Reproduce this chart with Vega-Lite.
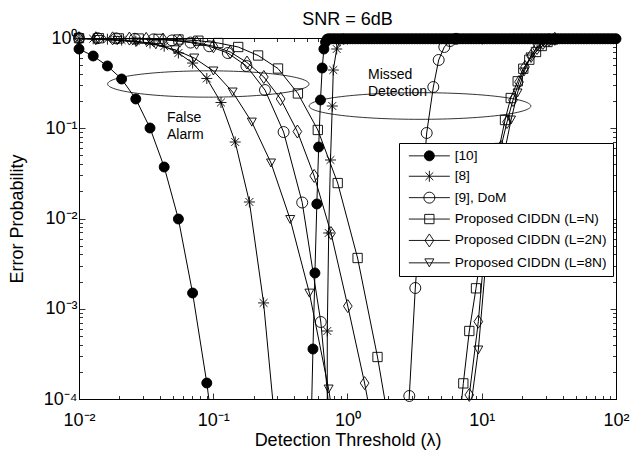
{
  "$schema": "https://vega.github.io/schema/vega-lite/v6.json",
  "width": 537,
  "height": 361,
  "autosize": "none",
  "padding": {"left": 79, "top": 38, "right": 17, "bottom": 55},
  "background": "white",
  "title": {"text": "SNR = 6dB", "fontSize": 18, "fontWeight": "normal", "font": "Liberation Sans", "color": "black", "anchor": "middle", "baseline": "bottom", "offset": 12, "dy": 30},
  "config": {
    "font": "Liberation Sans",
    "view": {"stroke": "black", "strokeWidth": 1},
    "axis": {"grid": false, "domainColor": "black", "tickColor": "black", "labelColor": "black", "titleColor": "black", "labelFont": "Liberation Sans", "titleFont": "Liberation Sans", "labelFontSize": 18, "titleFontSize": 18, "titleFontWeight": "normal", "labelFlush": false, "labelOverlap": false, "labelBound": false, "tickWidth": 0.8, "domainWidth": 1}
  },
  "datasets": {
    "curves": [
      {"s": "[10]", "k": "FA", "x": 0.01, "y": 0.755},
      {"s": "[10]", "k": "FA", "x": 0.01276, "y": 0.632},
      {"s": "[10]", "k": "FA", "x": 0.01628, "y": 0.49},
      {"s": "[10]", "k": "FA", "x": 0.02077, "y": 0.3513},
      {"s": "[10]", "k": "FA", "x": 0.02649, "y": 0.211},
      {"s": "[10]", "k": "FA", "x": 0.0338, "y": 0.1006},
      {"s": "[10]", "k": "FA", "x": 0.04311, "y": 0.03721},
      {"s": "[10]", "k": "FA", "x": 0.055, "y": 0.00987},
      {"s": "[10]", "k": "FA", "x": 0.07017, "y": 0.001494},
      {"s": "[10]", "k": "FA", "x": 0.08953, "y": 0.0001504},
      {"s": "[10]", "k": "FA", "x": 0.1142, "y": 0.000009},

      {"s": "[8]", "k": "FA", "x": 0.01, "y": 0.99},
      {"s": "[8]", "k": "FA", "x": 0.01276, "y": 0.98},
      {"s": "[8]", "k": "FA", "x": 0.01628, "y": 0.97},
      {"s": "[8]", "k": "FA", "x": 0.02077, "y": 0.95},
      {"s": "[8]", "k": "FA", "x": 0.02649, "y": 0.92},
      {"s": "[8]", "k": "FA", "x": 0.0338, "y": 0.88},
      {"s": "[8]", "k": "FA", "x": 0.04311, "y": 0.81},
      {"s": "[8]", "k": "FA", "x": 0.055, "y": 0.682},
      {"s": "[8]", "k": "FA", "x": 0.07017, "y": 0.528},
      {"s": "[8]", "k": "FA", "x": 0.08953, "y": 0.356},
      {"s": "[8]", "k": "FA", "x": 0.1142, "y": 0.193},
      {"s": "[8]", "k": "FA", "x": 0.1457, "y": 0.0704},
      {"s": "[8]", "k": "FA", "x": 0.1859, "y": 0.01524},
      {"s": "[8]", "k": "FA", "x": 0.2371, "y": 0.00116},
      {"s": "[8]", "k": "FA", "x": 0.3025, "y": 0.000025},

      {"s": "[9], DoM", "k": "FA", "x": 0.01, "y": 0.997},
      {"s": "[9], DoM", "k": "FA", "x": 0.01376, "y": 0.995},
      {"s": "[9], DoM", "k": "FA", "x": 0.01892, "y": 0.99},
      {"s": "[9], DoM", "k": "FA", "x": 0.02603, "y": 0.98},
      {"s": "[9], DoM", "k": "FA", "x": 0.03582, "y": 0.965},
      {"s": "[9], DoM", "k": "FA", "x": 0.04927, "y": 0.94},
      {"s": "[9], DoM", "k": "FA", "x": 0.0678, "y": 0.89},
      {"s": "[9], DoM", "k": "FA", "x": 0.09329, "y": 0.81},
      {"s": "[9], DoM", "k": "FA", "x": 0.1284, "y": 0.682},
      {"s": "[9], DoM", "k": "FA", "x": 0.1766, "y": 0.49},
      {"s": "[9], DoM", "k": "FA", "x": 0.2429, "y": 0.265},
      {"s": "[9], DoM", "k": "FA", "x": 0.3342, "y": 0.0908},
      {"s": "[9], DoM", "k": "FA", "x": 0.4599, "y": 0.01504},
      {"s": "[9], DoM", "k": "FA", "x": 0.6327, "y": 0.000713},
      {"s": "[9], DoM", "k": "FA", "x": 0.8703, "y": 0.0000044},

      {"s": "Proposed CIDDN (L=N)", "k": "FA", "x": 0.01, "y": 0.996},
      {"s": "Proposed CIDDN (L=N)", "k": "FA", "x": 0.01407, "y": 0.994},
      {"s": "Proposed CIDDN (L=N)", "k": "FA", "x": 0.01979, "y": 0.99},
      {"s": "Proposed CIDDN (L=N)", "k": "FA", "x": 0.02784, "y": 0.986},
      {"s": "Proposed CIDDN (L=N)", "k": "FA", "x": 0.03916, "y": 0.977},
      {"s": "Proposed CIDDN (L=N)", "k": "FA", "x": 0.05509, "y": 0.962},
      {"s": "Proposed CIDDN (L=N)", "k": "FA", "x": 0.07751, "y": 0.933},
      {"s": "Proposed CIDDN (L=N)", "k": "FA", "x": 0.109, "y": 0.88},
      {"s": "Proposed CIDDN (L=N)", "k": "FA", "x": 0.1534, "y": 0.795},
      {"s": "Proposed CIDDN (L=N)", "k": "FA", "x": 0.2158, "y": 0.64},
      {"s": "Proposed CIDDN (L=N)", "k": "FA", "x": 0.3036, "y": 0.459},
      {"s": "Proposed CIDDN (L=N)", "k": "FA", "x": 0.4271, "y": 0.243},
      {"s": "Proposed CIDDN (L=N)", "k": "FA", "x": 0.6009, "y": 0.0957},
      {"s": "Proposed CIDDN (L=N)", "k": "FA", "x": 0.8453, "y": 0.0247},
      {"s": "Proposed CIDDN (L=N)", "k": "FA", "x": 1.189, "y": 0.00365},
      {"s": "Proposed CIDDN (L=N)", "k": "FA", "x": 1.673, "y": 0.000292},
      {"s": "Proposed CIDDN (L=N)", "k": "FA", "x": 2.353, "y": 0.000015},

      {"s": "Proposed CIDDN (L=2N)", "k": "FA", "x": 0.01, "y": 0.996},
      {"s": "Proposed CIDDN (L=2N)", "k": "FA", "x": 0.01334, "y": 0.994},
      {"s": "Proposed CIDDN (L=2N)", "k": "FA", "x": 0.01779, "y": 0.991},
      {"s": "Proposed CIDDN (L=2N)", "k": "FA", "x": 0.02373, "y": 0.986},
      {"s": "Proposed CIDDN (L=2N)", "k": "FA", "x": 0.03166, "y": 0.977},
      {"s": "Proposed CIDDN (L=2N)", "k": "FA", "x": 0.04223, "y": 0.962},
      {"s": "Proposed CIDDN (L=2N)", "k": "FA", "x": 0.05633, "y": 0.933},
      {"s": "Proposed CIDDN (L=2N)", "k": "FA", "x": 0.07516, "y": 0.887},
      {"s": "Proposed CIDDN (L=2N)", "k": "FA", "x": 0.1003, "y": 0.81},
      {"s": "Proposed CIDDN (L=2N)", "k": "FA", "x": 0.1338, "y": 0.7},
      {"s": "Proposed CIDDN (L=2N)", "k": "FA", "x": 0.1784, "y": 0.535},
      {"s": "Proposed CIDDN (L=2N)", "k": "FA", "x": 0.238, "y": 0.37},
      {"s": "Proposed CIDDN (L=2N)", "k": "FA", "x": 0.3175, "y": 0.211},
      {"s": "Proposed CIDDN (L=2N)", "k": "FA", "x": 0.4234, "y": 0.092},
      {"s": "Proposed CIDDN (L=2N)", "k": "FA", "x": 0.5649, "y": 0.0296},
      {"s": "Proposed CIDDN (L=2N)", "k": "FA", "x": 0.7535, "y": 0.0069},
      {"s": "Proposed CIDDN (L=2N)", "k": "FA", "x": 1.005, "y": 0.00107},
      {"s": "Proposed CIDDN (L=2N)", "k": "FA", "x": 1.341, "y": 0.00015},
      {"s": "Proposed CIDDN (L=2N)", "k": "FA", "x": 1.788, "y": 0.000015},

      {"s": "Proposed CIDDN (L=8N)", "k": "FA", "x": 0.01, "y": 0.977},
      {"s": "Proposed CIDDN (L=8N)", "k": "FA", "x": 0.0139, "y": 0.964},
      {"s": "Proposed CIDDN (L=8N)", "k": "FA", "x": 0.01932, "y": 0.94},
      {"s": "Proposed CIDDN (L=8N)", "k": "FA", "x": 0.02686, "y": 0.9},
      {"s": "Proposed CIDDN (L=8N)", "k": "FA", "x": 0.03734, "y": 0.84},
      {"s": "Proposed CIDDN (L=8N)", "k": "FA", "x": 0.0519, "y": 0.74},
      {"s": "Proposed CIDDN (L=8N)", "k": "FA", "x": 0.07214, "y": 0.6},
      {"s": "Proposed CIDDN (L=8N)", "k": "FA", "x": 0.1003, "y": 0.431},
      {"s": "Proposed CIDDN (L=8N)", "k": "FA", "x": 0.1394, "y": 0.252},
      {"s": "Proposed CIDDN (L=8N)", "k": "FA", "x": 0.1938, "y": 0.117},
      {"s": "Proposed CIDDN (L=8N)", "k": "FA", "x": 0.2693, "y": 0.0412},
      {"s": "Proposed CIDDN (L=8N)", "k": "FA", "x": 0.3744, "y": 0.00975},
      {"s": "Proposed CIDDN (L=8N)", "k": "FA", "x": 0.5203, "y": 0.00149},
      {"s": "Proposed CIDDN (L=8N)", "k": "FA", "x": 0.7234, "y": 0.000129},
      {"s": "Proposed CIDDN (L=8N)", "k": "FA", "x": 1.005, "y": 0.000006},

      {"s": "[10]", "k": "MD", "x": 0.534, "y": 0.00004},
      {"s": "[10]", "k": "MD", "x": 0.553, "y": 0.000358},
      {"s": "[10]", "k": "MD", "x": 0.572, "y": 0.00249},
      {"s": "[10]", "k": "MD", "x": 0.591, "y": 0.01448},
      {"s": "[10]", "k": "MD", "x": 0.61, "y": 0.062},
      {"s": "[10]", "k": "MD", "x": 0.629, "y": 0.2056},
      {"s": "[10]", "k": "MD", "x": 0.648, "y": 0.4652},
      {"s": "[10]", "k": "MD", "x": 0.667, "y": 0.755},
      {"s": "[10]", "k": "MD", "x": 0.686, "y": 0.9},
      {"s": "[10]", "k": "MD", "x": 0.705, "y": 0.97},
      {"s": "[10]", "k": "MD", "x": 0.7244, "y": 0.98},
      {"s": "[10]", "k": "MD", "x": 0.7586, "y": 0.98},
      {"s": "[10]", "k": "MD", "x": 0.7943, "y": 0.98},
      {"s": "[10]", "k": "MD", "x": 0.8318, "y": 0.98},
      {"s": "[10]", "k": "MD", "x": 0.871, "y": 0.98},
      {"s": "[10]", "k": "MD", "x": 0.912, "y": 0.98},
      {"s": "[10]", "k": "MD", "x": 0.955, "y": 0.98},
      {"s": "[10]", "k": "MD", "x": 1, "y": 0.98},
      {"s": "[10]", "k": "MD", "x": 1.0471, "y": 0.98},
      {"s": "[10]", "k": "MD", "x": 1.0965, "y": 0.98},
      {"s": "[10]", "k": "MD", "x": 1.1482, "y": 0.98},
      {"s": "[10]", "k": "MD", "x": 1.2023, "y": 0.98},
      {"s": "[10]", "k": "MD", "x": 1.2589, "y": 0.98},
      {"s": "[10]", "k": "MD", "x": 1.3183, "y": 0.98},
      {"s": "[10]", "k": "MD", "x": 1.3804, "y": 0.98},
      {"s": "[10]", "k": "MD", "x": 1.4454, "y": 0.98},
      {"s": "[10]", "k": "MD", "x": 1.5136, "y": 0.98},
      {"s": "[10]", "k": "MD", "x": 1.5849, "y": 0.98},
      {"s": "[10]", "k": "MD", "x": 1.6596, "y": 0.98},
      {"s": "[10]", "k": "MD", "x": 1.7378, "y": 0.98},
      {"s": "[10]", "k": "MD", "x": 1.8197, "y": 0.98},
      {"s": "[10]", "k": "MD", "x": 1.9055, "y": 0.98},
      {"s": "[10]", "k": "MD", "x": 1.9953, "y": 0.98},
      {"s": "[10]", "k": "MD", "x": 2.0893, "y": 0.98},
      {"s": "[10]", "k": "MD", "x": 2.1878, "y": 0.98},
      {"s": "[10]", "k": "MD", "x": 2.2909, "y": 0.98},
      {"s": "[10]", "k": "MD", "x": 2.3988, "y": 0.98},
      {"s": "[10]", "k": "MD", "x": 2.5119, "y": 0.98},
      {"s": "[10]", "k": "MD", "x": 2.6303, "y": 0.98},
      {"s": "[10]", "k": "MD", "x": 2.7542, "y": 0.98},
      {"s": "[10]", "k": "MD", "x": 2.884, "y": 0.98},
      {"s": "[10]", "k": "MD", "x": 3.02, "y": 0.98},
      {"s": "[10]", "k": "MD", "x": 3.1623, "y": 0.98},
      {"s": "[10]", "k": "MD", "x": 3.3113, "y": 0.98},
      {"s": "[10]", "k": "MD", "x": 3.4674, "y": 0.98},
      {"s": "[10]", "k": "MD", "x": 3.6308, "y": 0.98},
      {"s": "[10]", "k": "MD", "x": 3.8019, "y": 0.98},
      {"s": "[10]", "k": "MD", "x": 3.9811, "y": 0.98},
      {"s": "[10]", "k": "MD", "x": 4.1687, "y": 0.98},
      {"s": "[10]", "k": "MD", "x": 4.3652, "y": 0.98},
      {"s": "[10]", "k": "MD", "x": 4.5709, "y": 0.98},
      {"s": "[10]", "k": "MD", "x": 4.7863, "y": 0.98},
      {"s": "[10]", "k": "MD", "x": 5.0119, "y": 0.98},
      {"s": "[10]", "k": "MD", "x": 5.2481, "y": 0.98},
      {"s": "[10]", "k": "MD", "x": 5.4954, "y": 0.98},
      {"s": "[10]", "k": "MD", "x": 5.7544, "y": 0.98},
      {"s": "[10]", "k": "MD", "x": 6.0256, "y": 0.98},
      {"s": "[10]", "k": "MD", "x": 6.3096, "y": 0.98},
      {"s": "[10]", "k": "MD", "x": 6.6069, "y": 0.98},
      {"s": "[10]", "k": "MD", "x": 6.9183, "y": 0.98},
      {"s": "[10]", "k": "MD", "x": 7.2444, "y": 0.98},
      {"s": "[10]", "k": "MD", "x": 7.5858, "y": 0.98},
      {"s": "[10]", "k": "MD", "x": 7.9433, "y": 0.98},
      {"s": "[10]", "k": "MD", "x": 8.3176, "y": 0.98},
      {"s": "[10]", "k": "MD", "x": 8.7096, "y": 0.98},
      {"s": "[10]", "k": "MD", "x": 9.1201, "y": 0.98},
      {"s": "[10]", "k": "MD", "x": 9.5499, "y": 0.98},
      {"s": "[10]", "k": "MD", "x": 10, "y": 0.98},
      {"s": "[10]", "k": "MD", "x": 10.471, "y": 0.98},
      {"s": "[10]", "k": "MD", "x": 10.965, "y": 0.98},
      {"s": "[10]", "k": "MD", "x": 11.482, "y": 0.98},
      {"s": "[10]", "k": "MD", "x": 12.023, "y": 0.98},
      {"s": "[10]", "k": "MD", "x": 12.589, "y": 0.98},
      {"s": "[10]", "k": "MD", "x": 13.183, "y": 0.98},
      {"s": "[10]", "k": "MD", "x": 13.804, "y": 0.98},
      {"s": "[10]", "k": "MD", "x": 14.454, "y": 0.98},
      {"s": "[10]", "k": "MD", "x": 15.136, "y": 0.98},
      {"s": "[10]", "k": "MD", "x": 15.849, "y": 0.98},
      {"s": "[10]", "k": "MD", "x": 16.596, "y": 0.98},
      {"s": "[10]", "k": "MD", "x": 17.378, "y": 0.98},
      {"s": "[10]", "k": "MD", "x": 18.197, "y": 0.98},
      {"s": "[10]", "k": "MD", "x": 19.055, "y": 0.98},
      {"s": "[10]", "k": "MD", "x": 19.953, "y": 0.98},
      {"s": "[10]", "k": "MD", "x": 20.893, "y": 0.98},
      {"s": "[10]", "k": "MD", "x": 21.878, "y": 0.98},
      {"s": "[10]", "k": "MD", "x": 22.909, "y": 0.98},
      {"s": "[10]", "k": "MD", "x": 23.988, "y": 0.98},
      {"s": "[10]", "k": "MD", "x": 25.119, "y": 0.98},
      {"s": "[10]", "k": "MD", "x": 26.303, "y": 0.98},
      {"s": "[10]", "k": "MD", "x": 27.542, "y": 0.98},
      {"s": "[10]", "k": "MD", "x": 28.84, "y": 0.98},
      {"s": "[10]", "k": "MD", "x": 30.2, "y": 0.98},
      {"s": "[10]", "k": "MD", "x": 31.623, "y": 0.98},
      {"s": "[10]", "k": "MD", "x": 33.113, "y": 0.98},
      {"s": "[10]", "k": "MD", "x": 34.674, "y": 0.98},
      {"s": "[10]", "k": "MD", "x": 36.308, "y": 0.98},
      {"s": "[10]", "k": "MD", "x": 38.019, "y": 0.98},
      {"s": "[10]", "k": "MD", "x": 39.811, "y": 0.98},
      {"s": "[10]", "k": "MD", "x": 41.687, "y": 0.98},
      {"s": "[10]", "k": "MD", "x": 43.652, "y": 0.98},
      {"s": "[10]", "k": "MD", "x": 45.709, "y": 0.98},
      {"s": "[10]", "k": "MD", "x": 47.863, "y": 0.98},
      {"s": "[10]", "k": "MD", "x": 50.119, "y": 0.98},
      {"s": "[10]", "k": "MD", "x": 52.481, "y": 0.98},
      {"s": "[10]", "k": "MD", "x": 54.954, "y": 0.98},
      {"s": "[10]", "k": "MD", "x": 57.544, "y": 0.98},
      {"s": "[10]", "k": "MD", "x": 60.256, "y": 0.98},
      {"s": "[10]", "k": "MD", "x": 63.096, "y": 0.98},
      {"s": "[10]", "k": "MD", "x": 66.069, "y": 0.98},
      {"s": "[10]", "k": "MD", "x": 69.183, "y": 0.98},
      {"s": "[10]", "k": "MD", "x": 72.444, "y": 0.98},
      {"s": "[10]", "k": "MD", "x": 75.858, "y": 0.98},
      {"s": "[10]", "k": "MD", "x": 79.433, "y": 0.98},
      {"s": "[10]", "k": "MD", "x": 83.176, "y": 0.98},
      {"s": "[10]", "k": "MD", "x": 87.096, "y": 0.98},
      {"s": "[10]", "k": "MD", "x": 91.201, "y": 0.98},
      {"s": "[10]", "k": "MD", "x": 95.499, "y": 0.98},
      {"s": "[10]", "k": "MD", "x": 100, "y": 0.98},

      {"s": "[8]", "k": "MD", "x": 0.706, "y": 0.00001},
      {"s": "[8]", "k": "MD", "x": 0.7071, "y": 0.000567},
      {"s": "[8]", "k": "MD", "x": 0.7244, "y": 0.00691},
      {"s": "[8]", "k": "MD", "x": 0.747, "y": 0.0445},
      {"s": "[8]", "k": "MD", "x": 0.7704, "y": 0.1764},
      {"s": "[8]", "k": "MD", "x": 0.7837, "y": 0.4418},
      {"s": "[8]", "k": "MD", "x": 0.8308, "y": 0.755},
      {"s": "[8]", "k": "MD", "x": 0.88, "y": 0.93},
      {"s": "[8]", "k": "MD", "x": 0.93, "y": 0.98},

      {"s": "[9], DoM", "k": "MD", "x": 2.613, "y": 0.0000032},
      {"s": "[9], DoM", "k": "MD", "x": 2.886, "y": 0.000108},
      {"s": "[9], DoM", "k": "MD", "x": 3.199, "y": 0.001698},
      {"s": "[9], DoM", "k": "MD", "x": 3.54, "y": 0.01412},
      {"s": "[9], DoM", "k": "MD", "x": 3.89, "y": 0.0886},
      {"s": "[9], DoM", "k": "MD", "x": 4.356, "y": 0.2864},
      {"s": "[9], DoM", "k": "MD", "x": 4.779, "y": 0.5706},
      {"s": "[9], DoM", "k": "MD", "x": 5.26, "y": 0.795},
      {"s": "[9], DoM", "k": "MD", "x": 5.801, "y": 0.926},
      {"s": "[9], DoM", "k": "MD", "x": 6.43, "y": 0.98},

      {"s": "Proposed CIDDN (L=N)", "k": "MD", "x": 6.597, "y": 0.0000325},
      {"s": "Proposed CIDDN (L=N)", "k": "MD", "x": 7.29, "y": 0.000149},
      {"s": "Proposed CIDDN (L=N)", "k": "MD", "x": 8.078, "y": 0.000567},
      {"s": "Proposed CIDDN (L=N)", "k": "MD", "x": 9.063, "y": 0.001685},
      {"s": "Proposed CIDDN (L=N)", "k": "MD", "x": 10.01, "y": 0.00471},
      {"s": "Proposed CIDDN (L=N)", "k": "MD", "x": 11.06, "y": 0.01211},
      {"s": "Proposed CIDDN (L=N)", "k": "MD", "x": 12.21, "y": 0.0281},
      {"s": "Proposed CIDDN (L=N)", "k": "MD", "x": 13.49, "y": 0.0604},
      {"s": "Proposed CIDDN (L=N)", "k": "MD", "x": 14.9, "y": 0.1234},
      {"s": "Proposed CIDDN (L=N)", "k": "MD", "x": 16.43, "y": 0.2163},
      {"s": "Proposed CIDDN (L=N)", "k": "MD", "x": 18.53, "y": 0.3313},
      {"s": "Proposed CIDDN (L=N)", "k": "MD", "x": 20.39, "y": 0.4568},
      {"s": "Proposed CIDDN (L=N)", "k": "MD", "x": 22.6, "y": 0.5748},
      {"s": "Proposed CIDDN (L=N)", "k": "MD", "x": 25.36, "y": 0.7},
      {"s": "Proposed CIDDN (L=N)", "k": "MD", "x": 27.97, "y": 0.815},
      {"s": "Proposed CIDDN (L=N)", "k": "MD", "x": 30.89, "y": 0.903},
      {"s": "Proposed CIDDN (L=N)", "k": "MD", "x": 33.94, "y": 0.962},

      {"s": "Proposed CIDDN (L=2N)", "k": "MD", "x": 7.313, "y": 0.000024},
      {"s": "Proposed CIDDN (L=2N)", "k": "MD", "x": 8.078, "y": 0.000111},
      {"s": "Proposed CIDDN (L=2N)", "k": "MD", "x": 9.426, "y": 0.000719},
      {"s": "Proposed CIDDN (L=2N)", "k": "MD", "x": 10.3, "y": 0.0033},
      {"s": "Proposed CIDDN (L=2N)", "k": "MD", "x": 11.32, "y": 0.01093},
      {"s": "Proposed CIDDN (L=2N)", "k": "MD", "x": 12.55, "y": 0.02884},
      {"s": "Proposed CIDDN (L=2N)", "k": "MD", "x": 13.91, "y": 0.062},
      {"s": "Proposed CIDDN (L=2N)", "k": "MD", "x": 15.42, "y": 0.1173},
      {"s": "Proposed CIDDN (L=2N)", "k": "MD", "x": 17.09, "y": 0.2056},
      {"s": "Proposed CIDDN (L=2N)", "k": "MD", "x": 18.95, "y": 0.3255},
      {"s": "Proposed CIDDN (L=2N)", "k": "MD", "x": 21, "y": 0.4772},
      {"s": "Proposed CIDDN (L=2N)", "k": "MD", "x": 23.28, "y": 0.6318},
      {"s": "Proposed CIDDN (L=2N)", "k": "MD", "x": 25.79, "y": 0.7746},
      {"s": "Proposed CIDDN (L=2N)", "k": "MD", "x": 28.59, "y": 0.88},
      {"s": "Proposed CIDDN (L=2N)", "k": "MD", "x": 31.69, "y": 0.95},
      {"s": "Proposed CIDDN (L=2N)", "k": "MD", "x": 35, "y": 0.98},

      {"s": "Proposed CIDDN (L=8N)", "k": "MD", "x": 8.317, "y": 0.000086},
      {"s": "Proposed CIDDN (L=8N)", "k": "MD", "x": 9.426, "y": 0.000349},
      {"s": "Proposed CIDDN (L=8N)", "k": "MD", "x": 10.57, "y": 0.002573},
      {"s": "Proposed CIDDN (L=8N)", "k": "MD", "x": 11.82, "y": 0.00785},
      {"s": "Proposed CIDDN (L=8N)", "k": "MD", "x": 13.21, "y": 0.02178},
      {"s": "Proposed CIDDN (L=8N)", "k": "MD", "x": 14.77, "y": 0.0546},
      {"s": "Proposed CIDDN (L=8N)", "k": "MD", "x": 16.52, "y": 0.1234},
      {"s": "Proposed CIDDN (L=8N)", "k": "MD", "x": 18.47, "y": 0.2458},
      {"s": "Proposed CIDDN (L=8N)", "k": "MD", "x": 20.64, "y": 0.42},
      {"s": "Proposed CIDDN (L=8N)", "k": "MD", "x": 23.08, "y": 0.6161},
      {"s": "Proposed CIDDN (L=8N)", "k": "MD", "x": 25.79, "y": 0.7949},
      {"s": "Proposed CIDDN (L=8N)", "k": "MD", "x": 28.84, "y": 0.903},
      {"s": "Proposed CIDDN (L=8N)", "k": "MD", "x": 32.24, "y": 0.962},
      {"s": "Proposed CIDDN (L=8N)", "k": "MD", "x": 36, "y": 0.98}
    ],
    "rings": [
      {"name": "False Alarm", "x": 0.0919, "y": 0.3093},
      {"name": "Missed Detection", "x": 3.467, "y": 0.1764}
    ],
    "notes": [
      {"label": "False\nAlarm", "x": 0.04523, "y": 0.1283},
      {"label": "Missed\nDetection", "x": 1.421, "y": 0.389}
    ]
  },
  "resolve": {"axis": {"x": "independent", "y": "independent"}},
  "layer": [
    {
      "data": {"name": "curves"},
      "mark": {"type": "line", "color": "black", "strokeWidth": 1, "clip": true},
      "encoding": {
        "x": {
          "field": "x", "type": "quantitative",
          "scale": {"type": "log", "domain": [0.01, 100]},
          "axis": {
            "orient": "bottom", "title": "Detection Threshold (λ)",
            "values": [0.01, 0.02, 0.03, 0.04, 0.05, 0.06, 0.07, 0.08, 0.09, 0.1, 0.2, 0.3, 0.4, 0.5, 0.6, 0.7, 0.8, 0.9, 1, 2, 3, 4, 5, 6, 7, 8, 9, 10, 20, 30, 40, 50, 60, 70, 80, 90, 100],
            "labelExpr": "datum.value == 0.01 ? '10⁻²' : datum.value == 0.1 ? '10⁻¹' : datum.value == 1 ? '10⁰' : datum.value == 10 ? '10¹' : datum.value == 100 ? '10²' : ''",
            "tickSize": {"condition": {"test": "indexof([0.01, 0.1, 1, 10, 100], datum.value) >= 0", "value": -6}, "value": -3.5},
            "labelPadding": 18, "titlePadding": 0
          }
        },
        "y": {
          "field": "y", "type": "quantitative",
          "scale": {"type": "log", "domain": [0.0001, 1]},
          "axis": {
            "orient": "left", "title": "Error Probability",
            "values": [0.0001, 0.0002, 0.0003, 0.0004, 0.0005, 0.0006, 0.0007, 0.0008, 0.0009, 0.001, 0.002, 0.003, 0.004, 0.005, 0.006, 0.007, 0.008, 0.009, 0.01, 0.02, 0.03, 0.04, 0.05, 0.06, 0.07, 0.08, 0.09, 0.1, 0.2, 0.3, 0.4, 0.5, 0.6, 0.7, 0.8, 0.9, 1],
            "labelExpr": "datum.value == 1 ? '10⁰' : datum.value == 0.1 ? '10⁻¹' : datum.value == 0.01 ? '10⁻²' : datum.value == 0.001 ? '10⁻³' : datum.value == 0.0001 ? '10⁻⁴' : ''",
            "tickSize": {"condition": {"test": "indexof([0.0001, 0.001, 0.01, 0.1, 1], datum.value) >= 0", "value": -6}, "value": -3.5},
            "labelPadding": 8, "titlePadding": 17
          }
        },
        "detail": [{"field": "s", "type": "nominal"}, {"field": "k", "type": "nominal"}]
      }
    },
    {
      "data": {"name": "curves"},
      "transform": [{"filter": "datum.y >= 0.0001"}],
      "mark": {"type": "point", "size": 100, "stroke": "black", "strokeWidth": 0.9, "opacity": 1},
      "encoding": {
        "x": {
          "field": "x", "type": "quantitative",
          "scale": {"type": "log", "domain": [0.01, 100]},
          "axis": {
            "orient": "top", "title": null, "labels": false,
            "values": [0.01, 0.02, 0.03, 0.04, 0.05, 0.06, 0.07, 0.08, 0.09, 0.1, 0.2, 0.3, 0.4, 0.5, 0.6, 0.7, 0.8, 0.9, 1, 2, 3, 4, 5, 6, 7, 8, 9, 10, 20, 30, 40, 50, 60, 70, 80, 90, 100],
            "tickSize": {"condition": {"test": "indexof([0.01, 0.1, 1, 10, 100], datum.value) >= 0", "value": -6}, "value": -3.5}
          }
        },
        "y": {
          "field": "y", "type": "quantitative",
          "scale": {"type": "log", "domain": [0.0001, 1]},
          "axis": {
            "orient": "right", "title": null, "labels": false,
            "values": [0.0001, 0.0002, 0.0003, 0.0004, 0.0005, 0.0006, 0.0007, 0.0008, 0.0009, 0.001, 0.002, 0.003, 0.004, 0.005, 0.006, 0.007, 0.008, 0.009, 0.01, 0.02, 0.03, 0.04, 0.05, 0.06, 0.07, 0.08, 0.09, 0.1, 0.2, 0.3, 0.4, 0.5, 0.6, 0.7, 0.8, 0.9, 1],
            "tickSize": {"condition": {"test": "indexof([0.0001, 0.001, 0.01, 0.1, 1], datum.value) >= 0", "value": -6}, "value": -3.5}
          }
        },
        "shape": {
          "field": "s", "type": "nominal",
          "scale": {
            "domain": ["Proposed CIDDN (L=8N)", "Proposed CIDDN (L=2N)", "Proposed CIDDN (L=N)", "[9], DoM", "[8]", "[10]"],
            "range": [
              "M-0.9,-0.8H0.9L0,0.8Z",
              "M0,-1.3L0.87,0L0,1.3L-0.87,0Z",
              "M-0.93,-0.93H0.93V0.93H-0.93Z",
              "M-1.1,0A1.1,1.1,0,1,0,1.1,0A1.1,1.1,0,1,0,-1.1,0Z",
              "M-1.1,0H1.1M0,-1.1V1.1M-0.78,-0.78L0.78,0.78M-0.78,0.78L0.78,-0.78",
              "M-1,0A1,1,0,1,0,1,0A1,1,0,1,0,-1,0Z"
            ]
          },
          "legend": null
        },
        "fill": {
          "field": "s", "type": "nominal",
          "scale": {
            "domain": ["[10]", "[8]", "[9], DoM", "Proposed CIDDN (L=N)", "Proposed CIDDN (L=2N)", "Proposed CIDDN (L=8N)"],
            "range": ["black", "transparent", "transparent", "transparent", "transparent", "transparent"]
          },
          "legend": {
            "orient": "none", "legendX": 320, "legendY": 105, "direction": "vertical",
            "title": null, "fillColor": "white", "strokeColor": "black", "padding": 6,
            "labelFont": "Liberation Sans", "labelFontSize": 13.7, "labelColor": "black",
            "symbolSize": 100, "symbolOffset": 17.5, "labelOffset": 18.5, "rowPadding": 5.4,
            "symbolStrokeWidth": 0.9, "symbolStrokeColor": "black",
            "encoding": {
              "symbols": {
                "shape": {
                  "condition": [
                    {"test": "datum.value === '[10]'", "value": "M-4.1,0H4.1M-1,0A1,1,0,1,0,1,0A1,1,0,1,0,-1,0Z"},
                    {"test": "datum.value === '[8]'", "value": "M-4.1,0H4.1M0,-1.1V1.1M-0.78,-0.78L0.78,0.78M-0.78,0.78L0.78,-0.78"},
                    {"test": "datum.value === '[9], DoM'", "value": "M-4.1,0H4.1M-1.1,0A1.1,1.1,0,1,0,1.1,0A1.1,1.1,0,1,0,-1.1,0Z"},
                    {"test": "datum.value === 'Proposed CIDDN (L=N)'", "value": "M-4.1,0H4.1M-0.93,-0.93H0.93V0.93H-0.93Z"},
                    {"test": "datum.value === 'Proposed CIDDN (L=2N)'", "value": "M-4.1,0H4.1M0,-1.3L0.87,0L0,1.3L-0.87,0Z"}
                  ],
                  "value": "M-4.1,0H4.1M-0.9,-0.8H0.9L0,0.8Z"
                },
                "stroke": {"value": "black"},
                "strokeWidth": {"value": 0.9},
                "size": {"value": 100}
              }
            }
          }
        }
      }
    },
    {
      "data": {"name": "rings"},
      "transform": [{"filter": "datum.name === 'False Alarm'"}],
      "mark": {"type": "point", "shape": "M-0.907,0A0.907,0.1185,0,1,0,0.907,0A0.907,0.1185,0,1,0,-0.907,0Z", "size": 49284, "stroke": "black", "strokeWidth": 0.8, "fill": "transparent", "opacity": 1},
      "encoding": {
        "x": {"field": "x", "type": "quantitative", "scale": {"type": "log", "domain": [0.01, 100]}, "axis": null},
        "y": {"field": "y", "type": "quantitative", "scale": {"type": "log", "domain": [0.0001, 1]}, "axis": null}
      }
    },
    {
      "data": {"name": "rings"},
      "transform": [{"filter": "datum.name === 'Missed Detection'"}],
      "mark": {"type": "point", "shape": "M-0.9986,0A0.9986,0.12,0,1,0,0.9986,0A0.9986,0.12,0,1,0,-0.9986,0Z", "size": 49284, "stroke": "black", "strokeWidth": 0.8, "fill": "transparent", "opacity": 1},
      "encoding": {
        "x": {"field": "x", "type": "quantitative", "scale": {"type": "log", "domain": [0.01, 100]}, "axis": null},
        "y": {"field": "y", "type": "quantitative", "scale": {"type": "log", "domain": [0.0001, 1]}, "axis": null}
      }
    },
    {
      "data": {"name": "notes"},
      "mark": {"type": "text", "align": "left", "baseline": "middle", "fontSize": 14, "lineBreak": "\n", "lineHeight": 17, "font": "Liberation Sans", "color": "black"},
      "encoding": {
        "x": {"field": "x", "type": "quantitative", "scale": {"type": "log", "domain": [0.01, 100]}, "axis": null},
        "y": {"field": "y", "type": "quantitative", "scale": {"type": "log", "domain": [0.0001, 1]}, "axis": null},
        "text": {"field": "label"}
      }
    }
  ]
}
